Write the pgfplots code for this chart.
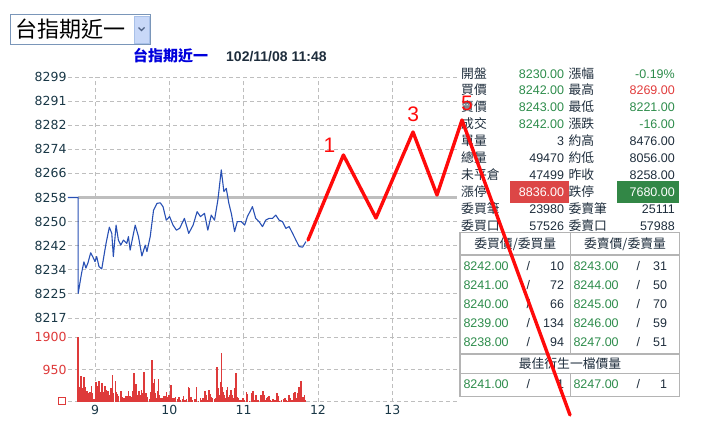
\documentclass[border=0pt]{standalone}
\usepackage{pgfplots}
\pgfplotsset{compat=1.18}
\usepackage{fontspec}
\setmainfont{DejaVu Sans}
\newfontfamily\arial{Liberation Sans}
\newfontfamily\cjk{Noto Sans CJK TC}
\definecolor{gridc}{RGB}{190,190,190}
\definecolor{refc}{RGB}{190,190,190}
\definecolor{pricec}{RGB}{40,80,180}
\definecolor{volc}{RGB}{222,58,58}
\definecolor{tickc}{RGB}{25,55,70}
\definecolor{gtxt}{RGB}{45,140,75}
\definecolor{rtxt}{RGB}{225,60,60}
\definecolor{dtxt}{RGB}{30,45,60}
\definecolor{rbox}{RGB}{220,70,70}
\definecolor{gbox}{RGB}{50,135,70}
\definecolor{bordc}{RGB}{180,180,180}
\definecolor{titleblue}{RGB}{0,0,220}
\definecolor{ddbord}{RGB}{122,150,185}
\definecolor{btnfill}{RGB}{200,216,248}
\definecolor{btnbord}{RGB}{168,192,232}
\definecolor{chev}{RGB}{77,97,133}
\definecolor{annot}{RGB}{255,10,10}
\newcommand\tv{\arial\fontsize{12.5}{14}\selectfont}
\newcommand\tl{\cjk\fontsize{12.8}{14}\selectfont}
\newcommand\sqbox{\raisebox{3pt}{\textcolor{volc}{\setlength\fboxrule{1pt}\setlength\fboxsep{0pt}\fbox{\rule{0pt}{6pt}\rule{6pt}{0pt}}}}}
\newcommand\row[5]{%
 \node[anchor=base west,text=dtxt] at (461,#1) {\tl #2};
 \node[anchor=base east,text=dtxt] at (564.3,#1) {\tv #3};
 \node[anchor=base west,text=dtxt] at (568.3,#1) {\tl #4};
 \node[anchor=base east,text=dtxt] at (675,#1) {\tv #5};}
\newcommand\brow[5]{%
 \node[anchor=base west,text=gtxt] at (463.3,#1) {\tv #2};
 \node[anchor=base,text=dtxt] at (528.3,#1) {\tv /};
 \node[anchor=base east,text=dtxt] at (564.3,#1) {\tv #3};
 \node[anchor=base west,text=gtxt] at (573.3,#1) {\tv #4};
 \node[anchor=base,text=dtxt] at (638.3,#1) {\tv /};
 \node[anchor=base east,text=dtxt] at (667.3,#1) {\tv #5};}
\begin{document}
\begin{tikzpicture}
\path[use as bounding box] (0pt,0pt) rectangle (702pt,-423pt);
\begin{scope}[x=1pt,y=-1pt, every node/.style={inner sep=0pt}]
% dropdown
\draw[color=ddbord, line width=1pt] (10.5,14.5) rectangle (150.5,44.5);
\fill[btnfill] (134,16) rectangle (149,43);
\draw[btnbord] (134,16) rectangle (149,43);
\draw[chev, line width=1.4pt] (138.5,27.5) -- (141.5,30.5) -- (144.5,27.5);
\node[anchor=base west] at (15.5,37.2) {\cjk\fontsize{22}{24}\selectfont 台指期近一};
% title
\node[anchor=base west, text=titleblue] at (133,61.7) {\cjk\bfseries\fontsize{15}{17}\selectfont 台指期近一};
\node[anchor=base west, text=dtxt] at (226,61) {\arial\bfseries\fontsize{14}{16}\selectfont 102/11/08 11:48};
% quote block
\fill[rbox] (510,181) rectangle (569,203);
\fill[gbox] (617.3,181) rectangle (679.3,203);
\row{78}{開盤}{\textcolor{gtxt}{8230.00}}{漲幅}{\textcolor{gtxt}{-0.19\%}}
\row{94.9}{買價}{\textcolor{gtxt}{8242.00}}{最高}{\textcolor{rtxt}{8269.00}}
\row{111.8}{賣價}{\textcolor{gtxt}{8243.00}}{最低}{\textcolor{gtxt}{8221.00}}
\row{128.7}{成交}{\textcolor{gtxt}{8242.00}}{漲跌}{\textcolor{gtxt}{-16.00}}
\row{145.6}{單量}{3}{約高}{8476.00}
\row{162.5}{總量}{49470}{約低}{8056.00}
\row{179.4}{未平倉}{47499}{昨收}{8258.00}
\row{196.3}{漲停}{\textcolor{white}{8836.00}}{跌停}{\textcolor{white}{7680.00}}
\row{213.2}{委買筆}{23980}{委賣筆}{25111}
\row{230.1}{委買口}{57526}{委賣口}{57988}
% order book
\draw[bordc, line width=1.5pt] (460,232.7) rectangle (679.3,396.7);
\draw[bordc, line width=1.2pt] (460,255) -- (679.3,255) (460,354) -- (679.3,354) (460,373.3) -- (679.3,373.3)
  (570.7,232.7) -- (570.7,354) (570.7,373.3) -- (570.7,396.7);
\node[anchor=base,text=dtxt] at (515.3,248.5) {\tl 委買價/委買量};
\node[anchor=base,text=dtxt] at (625,248.5) {\tl 委賣價/委賣量};
\brow{270.5}{8242.00}{10}{8243.00}{31}
\brow{289.5}{8241.00}{72}{8244.00}{50}
\brow{308.5}{8240.00}{66}{8245.00}{70}
\brow{327.8}{8239.00}{134}{8246.00}{59}
\brow{346.8}{8238.00}{94}{8247.00}{51}
\node[anchor=base,text=dtxt] at (570,368.8) {\tl 最佳衍生一檔價量};
\brow{388.5}{8241.00}{1}{8247.00}{1}
\end{scope}
% volume axis
\begin{axis}[
  at={(68pt,-401.7pt)}, anchor=south west,
  width=389pt, height=64.4pt, scale only axis,
  xmin=8.637, xmax=13.87, ymin=0, ymax=1900,
  axis line style={draw=none}, major tick length=0pt,
  xtick={9,10,11,12,13}, xticklabels={9,10,11,12,13},
  ytick={0,950,1900}, yticklabels={\sqbox,950,1900},
  grid=major,
  major grid style={gridc, dash pattern=on 4pt off 3pt, line width=0.9pt},
  ticklabel style={font=\fontsize{12.5}{14}\selectfont},
  yticklabel style={text=volc, xshift=2pt},
  xticklabel style={text=tickc},
  /pgf/number format/assume math mode=true,
]
\addplot[ycomb, volc, line width=1.45pt, mark=none] coordinates {
(8.770,1900)(8.784,440)(8.797,350)(8.811,770)(8.824,400)(8.851,730)(8.865,430)(8.878,200)(8.892,320)(8.915,270)(8.932,300)(8.950,460)(8.964,270)(8.986,80)(9.014,590)(9.027,460)(9.054,610)(9.068,300)(9.081,200)(9.095,560)(9.108,300)(9.135,460)(9.149,350)(9.162,250)(9.176,320)(9.189,200)(9.216,410)(9.234,780)(9.247,250)(9.274,620)(9.288,300)(9.301,230)(9.320,170)(9.351,320)(9.369,150)(9.392,100)(9.415,170)(9.432,180)(9.450,320)(9.473,180)(9.486,150)(9.509,320)
(9.527,850)(9.541,200)(9.554,520)(9.572,200)(9.591,320)(9.608,200)(9.626,360)(9.645,250)(9.662,880)(9.676,200)(9.689,270)(9.707,150)(9.730,80)(9.753,300)(9.770,1230)(9.784,560)(9.797,660)(9.815,250)(9.828,100)(9.838,320)(9.851,660)(9.865,200)(9.888,100)(9.905,100)(9.923,170)(9.942,180)(9.959,280)(9.977,150)(9.996,200)(10.009,170)(10.023,490)(10.041,120)(10.064,120)(10.085,130)(10.112,70)(10.131,150)(10.149,50)(10.176,70)(10.193,170)(10.212,50)(10.234,70)(10.257,420)(10.270,390)(10.293,130)
(10.311,50)(10.338,70)(10.355,70)(10.369,420)(10.396,30)(10.419,100)(10.436,50)(10.455,100)(10.482,320)(10.496,200)(10.518,50)(10.531,350)(10.545,230)(10.564,130)(10.581,100)(10.608,70)(10.626,120)(10.639,1010)(10.653,390)(10.672,200)(10.685,590)(10.699,1450)(10.712,420)(10.726,300)(10.743,200)(10.757,120)(10.770,360)(10.784,420)(10.801,150)(10.815,200)(10.828,350)(10.842,200)(10.861,100)(10.882,390)(10.896,860)(10.909,130)(10.928,100)(10.950,50)(10.969,50)(10.991,120)(11.004,50)(11.036,300)(11.050,230)
(11.081,30)(11.108,250)(11.126,320)(11.145,50)(11.166,200)(11.185,50)(11.203,50)(11.234,200)(11.247,100)(11.261,320)(11.274,200)(11.293,50)(11.315,100)(11.328,150)(11.342,180)(11.361,50)(11.382,30)(11.396,80)(11.419,50)(11.446,250)(11.459,170)(11.473,30)(11.509,50)(11.536,80)(11.554,120)(11.577,50)(11.595,30)(11.608,200)(11.626,120)(11.645,50)(11.662,50)(11.680,270)(11.693,300)(11.707,100)(11.730,250)(11.743,420)(11.757,200)(11.770,620)(11.784,100)(11.801,150)(11.815,200)(11.828,50)
};
\end{axis}
% price axis
\begin{axis}[
  at={(68pt,-337.3pt)}, anchor=south west,
  width=389pt, height=260.3pt, scale only axis,
  xmin=8.637, xmax=13.87, ymin=8210.43, ymax=8299,
  axis line style={draw=none}, major tick length=0pt,
  xtick={9,10,11,12,13}, xticklabels={},
  ytick={8217,8225.2,8233.4,8241.6,8249.8,8258,8266.2,8274.4,8282.6,8290.8,8299},
  yticklabels={8217,8225,8234,8242,8250,8258,8266,8274,8282,8291,8299},
  grid=major,
  major grid style={gridc, dash pattern=on 4pt off 3pt, line width=0.9pt},
  ticklabel style={font=\fontsize{12.5}{14}\selectfont},
  yticklabel style={text=tickc, xshift=2pt},
  /pgf/number format/assume math mode=true,
  clip=false,
]
\addplot[refc, line width=3pt, mark=none] coordinates {(8.774,8258) (13.87,8258)};
\addplot[pricec, line width=1.1pt, mark=none, line join=round] coordinates {
(8.637,8258) (8.774,8258) (8.774,8225.4) (8.820,8232.3) (8.851,8236.1) (8.878,8234.0) (8.905,8235.7) (8.942,8239.2) (8.969,8237.9) (9.000,8236.2) (9.023,8237.9) (9.054,8234.5) (9.091,8233.7) (9.122,8238.4) (9.149,8242.4) (9.193,8247.9) (9.226,8245.8) (9.247,8237.9) (9.284,8248.6) (9.315,8243.5) (9.347,8241.8) (9.382,8243.5) (9.428,8242.4) (9.450,8244.7) (9.473,8240.1) (9.541,8248.6) (9.585,8244.7) (9.631,8238.1) (9.676,8241.8) (9.699,8239.6) (9.743,8244.7) (9.788,8253.7) (9.834,8256.0) (9.878,8256.2) (9.915,8254.9) (9.959,8250.3) (10.004,8251.5) (10.050,8248.6) (10.095,8246.9) (10.139,8247.5) (10.203,8250.9) (10.261,8245.8) (10.320,8248.6) (10.374,8253.2) (10.419,8251.5) (10.473,8252.6) (10.518,8246.9) (10.564,8252.0) (10.608,8250.3) (10.653,8257.1) (10.699,8267.4) (10.734,8260.0) (10.766,8261.1) (10.801,8256.0) (10.834,8252.6) (10.878,8246.4) (10.915,8249.8) (10.969,8249.8) (11.014,8248.6) (11.050,8251.5) (11.085,8253.2) (11.118,8254.9) (11.162,8250.9) (11.207,8249.8) (11.253,8248.1) (11.297,8250.3) (11.342,8250.9) (11.388,8250.9) (11.432,8252.0) (11.477,8250.3) (11.523,8249.8) (11.568,8247.5) (11.612,8248.1) (11.658,8245.8) (11.703,8243.5) (11.747,8241.3) (11.793,8241.1) (11.838,8243.0)
};
\addplot[annot, line width=3.4pt, mark=none, line join=round, line cap=round] coordinates {
(11.866,8243.54) (12.342,8272.46) (12.780,8251.02) (13.278,8280.29) (13.601,8258.85) (13.937,8284.37) (15.390,8184.0)
};
\node[text=annot, font=\arial\fontsize{21}{23}\selectfont, inner sep=0pt] at (axis cs:12.155,8275.63) {1};
\node[text=annot, font=\arial\fontsize{21}{23}\selectfont, inner sep=0pt] at (axis cs:13.282,8286.48) {3};
\node[text=annot, font=\arial\fontsize{21}{23}\selectfont, inner sep=0pt] at (axis cs:14.005,8290.15) {5};
\end{axis}
\end{tikzpicture}
\end{document}
